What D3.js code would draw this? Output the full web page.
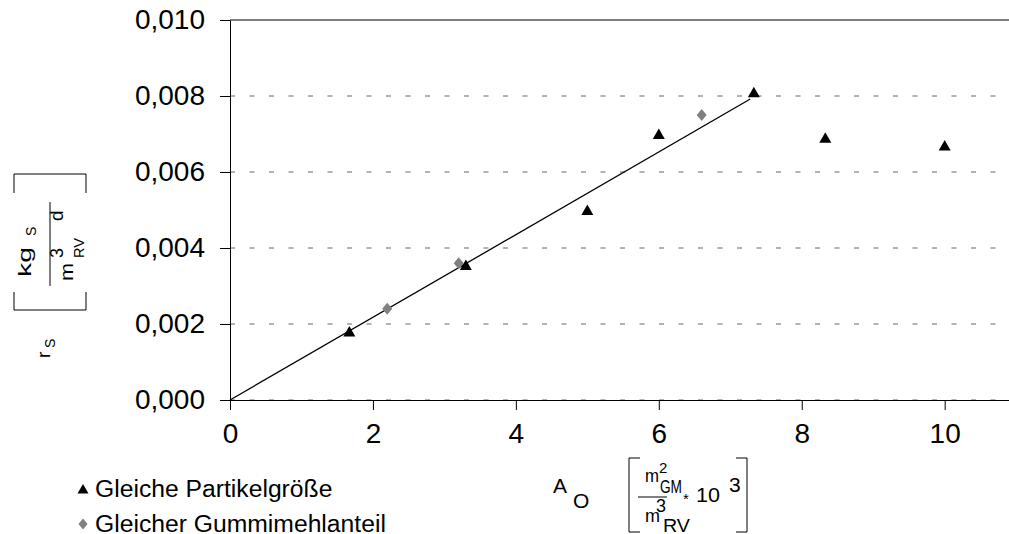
<!DOCTYPE html>
<html>
<head>
<meta charset="utf-8">
<script src="https://cdn.jsdelivr.net/npm/d3@7"></script>
<style>
  body { margin: 0; background: white; }
  text { font-family: "Liberation Sans", Arial, sans-serif; fill: black; }
</style>
</head>
<body>
<div id="chart-container"></div>
<script>
/* data */
var triX = [1.67, 3.3, 5.0, 6.0, 7.33, 8.33, 10.0]
var triY = [0.0018, 0.00355, 0.0050, 0.0070, 0.0081, 0.0069, 0.0067]
var diaX = [2.2, 3.2, 6.6]
var diaY = [0.0024, 0.0036, 0.0075]
var trendX = [0, 7.28]
var trendY = [0, 0.00792]
var xTicks = [0, 2, 4, 6, 8, 10]
var yTicks = [0, 0.002, 0.004, 0.006, 0.008, 0.010]
var legendNames = ["Gleiche Partikelgröße", "Gleicher Gummimehlanteil"]

/* layout */
var width = 1009, height = 534
var plot = { left: 230, right: 1009, top: 20, bottom: 400 }
var gridColor = "#666666"

var svg = d3.select("#chart-container")
  .append("svg")
  .attr("width", width)
  .attr("height", height)

var x = d3.scaleLinear().domain([0, 10.9]).range([plot.left, plot.right])
var y = d3.scaleLinear().domain([0, 0.010]).range([plot.bottom, plot.top])

var de = d3.formatLocale({ decimal: ",", thousands: ".", grouping: [3], currency: ["", "€"] })

/* dashed grid */
svg.append("g")
  .selectAll("line")
  .data(yTicks.slice(0, 5))
  .join("line")
  .attr("x1", plot.left)
  .attr("x2", plot.right)
  .attr("y1", d => y(d))
  .attr("y2", d => y(d))
  .style("stroke", gridColor)
  .style("stroke-width", 1)
  .style("stroke-dasharray", "5,14.5")

/* top line */
svg.append("line")
  .attr("x1", plot.left)
  .attr("x2", plot.right)
  .attr("y1", y(0.010))
  .attr("y2", y(0.010))
  .style("stroke", "black")
  .style("stroke-width", 1)

/* axes */
var yAxis = svg.append("g")
  .attr("transform", "translate(" + plot.left + ",0)")
  .call(d3.axisLeft(y).tickValues(yTicks).tickSize(10).tickSizeOuter(0).tickPadding(15).tickFormat(de.format(".3f")))
var xAxis = svg.append("g")
  .attr("transform", "translate(0," + plot.bottom + ")")
  .call(d3.axisBottom(x).tickValues(xTicks).tickSize(10).tickSizeOuter(0).tickPadding(13).tickFormat(d3.format("d")))

svg.selectAll(".domain, .tick line").style("stroke", "black").style("stroke-width", 1)
svg.selectAll(".tick text")
  .style("font-family", "'Liberation Sans', Arial, sans-serif")
  .style("font-size", "28px")
  .style("fill", "black")

/* trend line */
var trendLine = d3.line()
  .x(d => x(d[0]))
  .y(d => y(d[1]))
svg.append("path")
  .attr("d", trendLine(d3.zip(trendX, trendY)))
  .attr("stroke", "black")
  .attr("stroke-width", 1.3)
  .attr("fill", "none")

/* markers */
var triPath = "M0,-5.5L6,5L-6,5Z"
var diaPath = "M0,-6L5,0L0,6L-5,0Z"

svg.append("g")
  .selectAll("path")
  .data(d3.zip(diaX, diaY))
  .join("path")
  .attr("d", diaPath)
  .attr("transform", d => "translate(" + x(d[0]) + "," + y(d[1]) + ")")
  .attr("fill", "#808080")

svg.append("g")
  .selectAll("path")
  .data(d3.zip(triX, triY))
  .join("path")
  .attr("d", triPath)
  .attr("transform", d => "translate(" + x(d[0]) + "," + y(d[1]) + ")")
  .attr("fill", "black")

/* legend */
var legend = svg.append("g")
legend.append("path")
  .attr("d", "M0,-5L5.5,4.5L-5.5,4.5Z")
  .attr("transform", "translate(83,489)")
  .attr("fill", "black")
legend.append("path")
  .attr("d", "M0,-5.5L4.5,0L0,5.5L-4.5,0Z")
  .attr("transform", "translate(83,524)")
  .attr("fill", "#808080")
legend.selectAll("text")
  .data(legendNames)
  .join("text")
  .attr("x", 95)
  .attr("y", (d, i) => 497 + i * 35)
  .style("font-size", "24.7px")
  .text(d => d)

/* y axis title (rotated), len stretches the glyphs like the original */
function vText(px, py, size, str, len) {
  var t = svg.append("text")
    .attr("transform", "translate(" + px + "," + py + ") rotate(-90)")
    .style("font-size", size + "px")
    .text(str)
  if (len) t.attr("textLength", len).attr("lengthAdjust", "spacingAndGlyphs")
}
vText(50, 358, 19, "r")
vText(55, 348, 14, "S")
vText(31, 277, 19, "kg", 30)
vText(36, 236, 14, "S")
vText(73, 281, 18, "m", 18)
vText(63, 258, 18, "3")
vText(84, 258, 15, "RV", 20)
vText(63, 221, 19, "d")

var yBracket = svg.append("g").style("stroke", "black").style("stroke-width", 1).style("fill", "none")
yBracket.append("path").attr("d", "M14,193V174H86V193")
yBracket.append("path").attr("d", "M14,292V310H86V292")
yBracket.append("path").attr("d", "M50,202V286")

/* x axis title */
function hText(px, py, size, str, len) {
  var t = svg.append("text")
    .attr("x", px)
    .attr("y", py)
    .style("font-size", size + "px")
    .text(str)
  if (len) t.attr("textLength", len).attr("lengthAdjust", "spacingAndGlyphs")
}
hText(553, 493, 21, "A")
hText(573, 508, 21, "O")
hText(645, 482, 19, "m", 14)
hText(659, 473, 15, "2")
hText(660, 493, 18, "GM", 22)
hText(683, 504, 15, "*")
hText(696, 502, 21, "10", 24)
hText(729, 492, 21, "3")
hText(645, 522, 19, "m", 15)
hText(656, 512, 18, "3")
hText(663, 532, 18, "RV", 27)

var xBracket = svg.append("g").style("stroke", "black").style("stroke-width", 1).style("fill", "none")
xBracket.append("path").attr("d", "M640,458H629V532H640")
xBracket.append("path").attr("d", "M736,458H747V532H736")
xBracket.append("path").attr("d", "M638,497H667")
</script>
</body>
</html>
